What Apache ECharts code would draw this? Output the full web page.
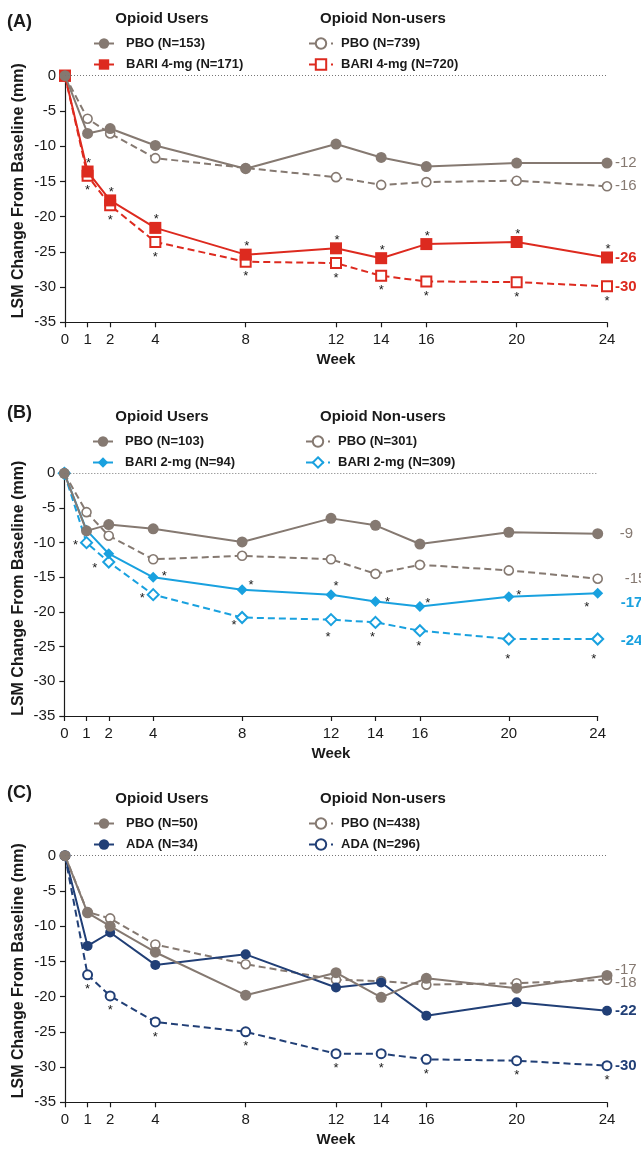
<!DOCTYPE html>
<html><head><meta charset="utf-8">
<script src="https://cdn.jsdelivr.net/npm/echarts@6/dist/echarts.min.js"></script>
<style>html,body{margin:0;padding:0;background:#fff}#c{width:641px;height:1150px}</style>
</head><body><div id="c"></div>
<script>
// ---------------- DATA ----------------
const weeks = [0, 1, 2, 4, 8, 12, 14, 16, 20, 24];
const weekTicks = [0, 1, 2, 4, 8, 12, 14, 16, 20, 24];
const yTicks = [0, -5, -10, -15, -20, -25, -30, -35];

// Panel A
const pboUsersA  = [0, -8.2, -7.5, -9.9, -13.2, -9.7, -11.6, -12.9, -12.4, -12.4];
const pboNonA    = [0, -6.1, -8.2, -11.7, -13.1, -14.4, -15.5, -15.1, -14.9, -15.7];
const bariUsersA = [0, -13.6, -17.7, -21.6, -25.4, -24.5, -25.9, -23.9, -23.6, -25.8];
const bariNonA   = [0, -14.2, -18.4, -23.6, -26.4, -26.6, -28.4, -29.2, -29.3, -29.9];
const namesA = ['PBO (N=153)', 'BARI 4-mg (N=171)', 'PBO (N=739)', 'BARI 4-mg (N=720)'];
const endA = ['-12', '-26', '-16', '-30'];

// Panel B
const pboUsersB  = [0, -8.3, -7.4, -8.0, -9.9, -6.5, -7.5, -10.2, -8.5, -8.7];
const pboNonB    = [0, -5.6, -9.0, -12.4, -11.9, -12.4, -14.5, -13.2, -14.0, -15.2];
const bariUsersB = [0, -8.2, -11.6, -15.0, -16.8, -17.5, -18.5, -19.2, -17.8, -17.3];
const bariNonB   = [0, -10.0, -12.8, -17.5, -20.8, -21.1, -21.5, -22.7, -23.9, -23.9];
const namesB = ['PBO (N=103)', 'BARI 2-mg (N=94)', 'PBO (N=301)', 'BARI 2-mg (N=309)'];
const endB = ['-9', '-17', '-15', '-24'];

// Panel C
const pboUsersC = [0, -8.1, -10.0, -13.7, -19.8, -16.6, -20.1, -17.4, -18.8, -17.0];
const pboNonC   = [0, -8.0, -8.9, -12.6, -15.4, -17.6, -17.8, -18.3, -18.1, -17.6];
const adaUsersC = [0, -12.8, -10.9, -15.5, -14.0, -18.7, -18.0, -22.7, -20.8, -22.0];
const adaNonC   = [0, -16.9, -19.9, -23.6, -25.0, -28.1, -28.1, -28.9, -29.1, -29.8];
const namesC = ['PBO (N=50)', 'ADA (N=34)', 'PBO (N=438)', 'ADA (N=296)'];
const endC = ['-17', '-22', '-18', '-30'];

const panelTitles = ['(A)', '(B)', '(C)'];
const groupHeaders = ['Opioid Users', 'Opioid Non-users'];

// significance markers (1 = asterisk at that week)
const sigA_users = [0, 1, 1, 1, 1, 1, 1, 1, 1, 1];
const sigA_non   = [0, 1, 1, 1, 1, 1, 1, 1, 1, 1];
const sigB_users = [0, 0, 0, 1, 1, 1, 1, 1, 1, 1];
const sigB_non   = [0, 1, 1, 1, 1, 1, 1, 1, 1, 1];
const sigC_non   = [0, 1, 1, 1, 1, 1, 1, 1, 1, 1];

// ---------------- STYLE / LAYOUT ----------------
const FONT = '"Liberation Sans", Arial, Helvetica, sans-serif';
const GRAY = '#857971';
const RED = '#dd2a1f';
const BLUE = '#19a1df';
const NAVY = '#213f76';
const INK = '#1a1a1a';

// asterisk offsets (px, relative to marker centre)
const starTop = [1, -11];
const starBottom = [0, 12];
const starOffB_users = [null, null, null, [11, -4], [9, -7], [5, -11], [12, -2], [8, -6], [10, -4], [-11, 11]];
const starOffB_non   = [null, [-11, 0], [-14, 3], [-11, 1], [-8, 5], [-3, 15], [-3, 12], [-1, 13], [-1, 17], [-4, 17]];

const grids = [
  { left: 65, right: 34, top: 75.7, height: 246.6 },
  { left: 64.3, right: 43.3, top: 473.3, height: 242.7 },
  { left: 65, right: 34, top: 855.7, height: 246.6 }
];
const headerY = [19, 417, 799];
const legendTop = [37, 435, 817];

function starsFrom(flags, off) {
  return flags.map(f => f ? off : null);
}

function mkSeries(gi, name, vals, color, opt) {
  const filled = opt.filled;
  const data = weeks.map((w, i) => {
    const item = { value: [w, vals[i]] };
    const s = opt.stars && opt.stars[i];
    if (s) {
      item.label = {
        show: true, formatter: '*', position: 'inside',
        offset: [s[0], s[1] + 3], fontSize: 13, color: INK, fontFamily: FONT
      };
    }
    return item;
  });
  return {
    type: 'line', name: name, xAxisIndex: gi, yAxisIndex: gi,
    data: data, z: opt.z || 2,
    symbol: opt.symbol, symbolSize: opt.size,
    color: color,
    lineStyle: { color: color, width: 2, type: filled ? 'solid' : [7, 4] },
    itemStyle: filled ? { color: color, borderWidth: 0 } : { color: '#fff', borderColor: color, borderWidth: opt.bw || 2 },
    label: { show: false },
    emphasis: { disabled: true },
    endLabel: {
      show: true, formatter: opt.end, color: color,
      fontWeight: opt.endBold ? 'bold' : 'normal', fontSize: 15, fontFamily: FONT,
      distance: opt.dist || 8, offset: [0, opt.endDy || 0]
    },
    markLine: opt.zero ? {
      silent: true, symbol: 'none', label: { show: false },
      lineStyle: { color: '#777', width: 1, type: [1, 2] },
      data: [{ yAxis: 0 }]
    } : undefined
  };
}

const series = [
  // Panel A
  mkSeries(0, namesA[2], pboNonA, GRAY, { filled: false, symbol: 'circle', size: 9, bw: 1.6, end: endA[2], dist: 8, zero: true }),
  mkSeries(0, namesA[3], bariNonA, RED, { filled: false, symbol: 'rect', size: 10, end: endA[3], endBold: true, dist: 8, stars: starsFrom(sigA_non, starBottom) }),
  mkSeries(0, namesA[1], bariUsersA, RED, { filled: true, symbol: 'rect', size: 12, end: endA[1], endBold: true, dist: 8, z: 3, stars: starsFrom(sigA_users, starTop) }),
  mkSeries(0, namesA[0], pboUsersA, GRAY, { filled: true, symbol: 'circle', size: 11, end: endA[0], dist: 8, z: 4 }),
  // Panel B
  mkSeries(1, namesB[2], pboNonB, GRAY, { filled: false, symbol: 'circle', size: 9, bw: 1.6, end: endB[2], dist: 27, zero: true }),
  mkSeries(1, namesB[3], bariNonB, BLUE, { filled: false, symbol: 'diamond', size: 11, end: endB[3], endBold: true, dist: 23, endDy: 2, stars: sigB_non.map((f, i) => f ? starOffB_non[i] : null) }),
  mkSeries(1, namesB[1], bariUsersB, BLUE, { filled: true, symbol: 'diamond', size: 11, end: endB[1], endBold: true, dist: 23, endDy: 10, z: 3, stars: sigB_users.map((f, i) => f ? starOffB_users[i] : null) }),
  mkSeries(1, namesB[0], pboUsersB, GRAY, { filled: true, symbol: 'circle', size: 11, end: endB[0], dist: 22, z: 4 }),
  // Panel C
  mkSeries(2, namesC[2], pboNonC, GRAY, { filled: false, symbol: 'circle', size: 9, bw: 1.6, end: endC[2], dist: 8, endDy: 3, zero: true }),
  mkSeries(2, namesC[3], adaNonC, NAVY, { filled: false, symbol: 'circle', size: 9, bw: 2, end: endC[3], endBold: true, dist: 8, stars: starsFrom(sigC_non, starBottom) }),
  mkSeries(2, namesC[1], adaUsersC, NAVY, { filled: true, symbol: 'circle', size: 10, end: endC[1], endBold: true, dist: 8, z: 3 }),
  mkSeries(2, namesC[0], pboUsersC, GRAY, { filled: true, symbol: 'circle', size: 11, end: endC[0], dist: 8, endDy: -6, z: 4 })
];

const xAxes = grids.map((g, i) => ({
  type: 'value', gridIndex: i, min: 0, max: 24,
  name: 'Week', nameLocation: 'middle', nameGap: 30,
  nameTextStyle: { fontFamily: FONT, fontSize: 15, fontWeight: 'bold', color: INK },
  axisLine: { show: true, onZero: false, lineStyle: { color: INK, width: 1.2 } },
  axisTick: { show: true, customValues: weekTicks, length: 5, lineStyle: { color: INK, width: 1.2 } },
  axisLabel: { customValues: weekTicks, fontFamily: FONT, fontSize: 15, color: INK, margin: 10 },
  splitLine: { show: false }
}));

const yAxes = grids.map((g, i) => ({
  type: 'value', gridIndex: i, min: -35, max: 0, interval: 5,
  axisLine: { show: true, lineStyle: { color: INK, width: 1.2 } },
  axisTick: { show: true, length: 5, lineStyle: { color: INK, width: 1.2 } },
  axisLabel: { fontFamily: FONT, fontSize: 15, color: INK, margin: 9 },
  splitLine: { show: false }
}));

const legends = [];
const legendLeft = [[93, 308], [92, 305], [93, 308]];
const allNames = [namesA, namesB, namesC];
for (let p = 0; p < 3; p++) {
  legends.push({
    orient: 'vertical', left: legendLeft[p][0], top: legendTop[p], padding: 0,
    itemWidth: 20, itemHeight: 13, itemGap: 8, selectedMode: false,
    data: [allNames[p][0], allNames[p][1]],
    textStyle: { fontFamily: FONT, fontSize: 13, fontWeight: 'bold', color: INK, padding: [0, 0, 0, 7] }
  });
  legends.push({
    orient: 'vertical', left: legendLeft[p][1], top: legendTop[p], padding: 0,
    itemWidth: 24, itemHeight: 13, itemGap: 8, selectedMode: false,
    data: [allNames[p][2], allNames[p][3]],
    textStyle: { fontFamily: FONT, fontSize: 13, fontWeight: 'bold', color: INK, padding: [0, 0, 0, 3] }
  });
}

const graphics = [];
const titleY = [21.7, 413.3, 793.3];
for (let p = 0; p < 3; p++) {
  graphics.push({ type: 'text', x: 7, y: titleY[p], style: { text: panelTitles[p], font: 'bold 18px ' + FONT, fill: INK, verticalAlign: 'middle', align: 'left' } });
  graphics.push({ type: 'text', x: 162, y: headerY[p], style: { text: groupHeaders[0], font: 'bold 15px ' + FONT, fill: INK, verticalAlign: 'middle', align: 'center' } });
  graphics.push({ type: 'text', x: 383, y: headerY[p], style: { text: groupHeaders[1], font: 'bold 15px ' + FONT, fill: INK, verticalAlign: 'middle', align: 'center' } });
  graphics.push({ type: 'text', x: 18.5, y: grids[p].top + 115, rotation: Math.PI / 2,
    style: { text: 'LSM Change From Baseline (mm)', font: 'bold 16px ' + FONT, fill: INK, verticalAlign: 'middle', align: 'center' } });
}

const chart = echarts.init(document.getElementById('c'), null, { renderer: 'canvas' });
chart.setOption({
  animation: false,
  backgroundColor: '#fff',
  grid: grids,
  xAxis: xAxes,
  yAxis: yAxes,
  legend: legends,
  graphic: graphics,
  series: series
});
</script>
</body></html>
